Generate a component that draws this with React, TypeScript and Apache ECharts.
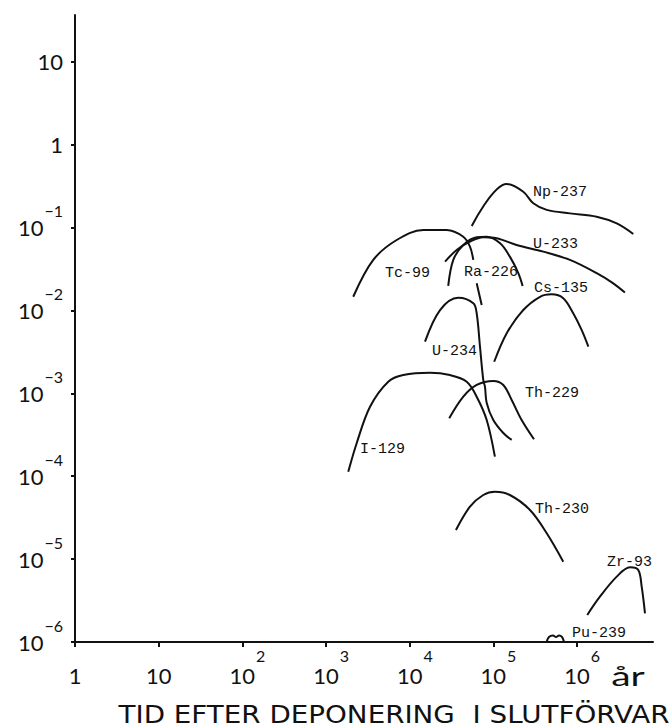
import React, { useEffect, useRef } from "react";
import * as echarts from "echarts";

// Time after deposition (years) vs dose (log-log)
const NP237 = [[5.5e4, 0.104], [1.44e5, 0.335], [2.27e5, 0.27], [2.99e5, 0.196], [4.33e5, 0.163], [8.2e5, 0.148], [1.71e6, 0.135], [2.97e6, 0.112], [4.68e6, 0.0836]];
const TC99 = [[2110, 0.0146], [3660, 0.0406], [6970, 0.0706], [14500, 0.0933], [27600, 0.0933], [43600, 0.0774], [52400, 0.0586], [57400, 0.0406], null, [63000, 0.0212], [72300, 0.0116]];
const U234 = [[15200, 0.00419], [23000, 0.0101], [37900, 0.0142], [57400, 0.0122], [63000, 0.00923], [69000, 0.00365], [75500, 0.00145], [79100, 0.0012], [83000, 0.000764], [99500, 0.000476], [131000, 0.000332], [165000, 0.000274]];
const RA226 = [[28800, 0.0197], [33100, 0.0406], [43600, 0.0615], [63000, 0.0762], [83000, 0.0774], [120000, 0.0644], [157000, 0.0445], [198000, 0.0281], [223000, 0.0197]];
const U233 = [[26400, 0.0387], [36300, 0.0536], [52400, 0.0675], [75500, 0.0762], [109000, 0.0741], [189000, 0.0615], [394000, 0.0511], [820000, 0.0406], [1.71e6, 0.0281], [2.7e6, 0.0212], [3.72e6, 0.0164]];
const CS135 = [[102000, 0.0024], [144000, 0.0053], [227000, 0.0101], [360000, 0.0146], [495000, 0.0156], [682000, 0.014], [897000, 0.00923], [1.13e6, 0.00581], [1.36e6, 0.00365]];
const I129 = [[1840, 0.000113], [2320, 0.00025], [3350, 0.000689], [5530, 0.00138], [8360, 0.00166], [17400, 0.00177], [30200, 0.00166], [47900, 0.00138], [63000, 0.00091], [83000, 0.000476], [104000, 0.000172]];
const TH229 = [[29600, 0.000499], [43600, 0.00091], [63000, 0.00126], [99500, 0.00141], [131000, 0.00126], [165000, 0.00083], [217000, 0.000476], [305000, 0.000279]];
const TH230 = [[35600, 2.24e-5], [52400, 4.29e-5], [75500, 5.93e-5], [104000, 6.5e-5], [157000, 5.93e-5], [273000, 3.91e-5], [433000, 2.05e-5], [682000, 9.31e-6]];
const ZR93 = [[1.32e6, 2.12e-6], [1.87e6, 3.52e-6], [2.97e6, 6.14e-6], [4.28e6, 7.96e-6], [5.37e6, 7.4e-6], [5.9e6, 4.65e-6], [6.46e6, 2.22e-6]];
const PU239 = [[433000, 1.01e-6], [460000, 1.15e-6], [514000, 1.2e-6], [559000, 1.15e-6], [607000, 1.2e-6], [658000, 1.15e-6], [695000, 1.01e-6]];

const X_TICK_EXPONENTS = [0, 1, 2, 3, 4, 5, 6];
const Y_TICK_EXPONENTS = [-6, -5, -4, -3, -2, -1, 0, 1];

const SERIES = [NP237, TC99, U234, RA226, U233, CS135, I129, TH229, TH230, ZR93, PU239];

const LABELS = [
  { text: "Np-237", x: 533, y: 192 },
  { text: "U-233", x: 533, y: 244 },
  { text: "Tc-99", x: 385, y: 273 },
  { text: "Ra-226", x: 464, y: 272 },
  { text: "Cs-135", x: 534, y: 288 },
  { text: "U-234", x: 432, y: 351 },
  { text: "Th-229", x: 525, y: 393 },
  { text: "I-129", x: 360, y: 449 },
  { text: "Th-230", x: 535, y: 509 },
  { text: "Zr-93", x: 607, y: 562 },
  { text: "Pu-239", x: 572, y: 633 },
];

const AXIS_FONT = "Lato, 'Open Sans', sans-serif";
const INK = "#111";

function toLog(d: any) {
  if (!d) return ["-", "-"];
  return [Math.log10(d[0]), Math.log10(d[1])];
}

function yLabel(v: number) {
  const e = Math.round(v);
  if (e === 0) return "{b|1}";
  if (e === 1) return "{b|10}";
  return "{b|10}{s|\u2212" + Math.abs(e) + "}";
}

function xLabel(v: number) {
  const e = Math.round(v);
  if (e === 0) return "{xb|1}";
  if (e === 1) return "{xb|10}";
  return "{xbs|10}{xs|" + e + "}";
}

const baseFont = { fontSize: 22, fontFamily: AXIS_FONT, fontWeight: 400, color: INK };
const supFont = { fontSize: 16, fontFamily: AXIS_FONT, fontWeight: 400, color: INK };

const yRich = {
  b: { ...baseFont, padding: [14, 0, 14, 0], verticalAlign: "middle" },
  s: { ...supFont, lineHeight: 18, verticalAlign: "top", padding: [0, 0, 0, 1] },
};

const X_LH = 39;
const xRich = {
  xb: { ...baseFont, lineHeight: X_LH, verticalAlign: "bottom" },
  xbs: { ...baseFont, lineHeight: X_LH, verticalAlign: "bottom", padding: [0, 0, 0, 10] },
  xs: { ...supFont, lineHeight: X_LH, verticalAlign: "top", padding: [0, 0, 0, 1] },
};

export default function App() {
  const ref = useRef<HTMLDivElement>(null);
  useEffect(() => {
    if (!ref.current) return;
    const chart = echarts.init(ref.current, null, { renderer: "svg" });
    const option: any = {
      animation: false,
      backgroundColor: "#fff",
      grid: { left: 75, right: 17, top: 15, bottom: 86, containLabel: false },
      xAxis: {
        type: "value",
        min: 0,
        max: 6.906,
        splitLine: { show: false },
        axisLine: { show: true, onZero: false, lineStyle: { color: INK, width: 2 } },
        axisTick: { show: true, inside: false, length: 5, customValues: X_TICK_EXPONENTS, lineStyle: { color: INK, width: 2 } },
        axisLabel: {
          customValues: X_TICK_EXPONENTS,
          margin: 5,
          color: INK,
          formatter: xLabel,
          rich: xRich,
        },
      },
      yAxis: {
        type: "value",
        min: -6,
        max: 1.563,
        splitLine: { show: false },
        axisLine: { show: true, onZero: false, lineStyle: { color: INK, width: 2 } },
        axisTick: { show: true, inside: false, length: 4, customValues: Y_TICK_EXPONENTS, lineStyle: { color: INK, width: 2 } },
        axisLabel: {
          customValues: Y_TICK_EXPONENTS,
          margin: 12,
          color: INK,
          formatter: yLabel,
          rich: yRich,
        },
      },
      series: SERIES.map((arr) => ({
        type: "line",
        data: arr.map(toLog),
        symbol: "none",
        smooth: 0.35,
        connectNulls: false,
        lineStyle: { color: INK, width: 2 },
        silent: true,
      })),
      graphic: [
        ...LABELS.map((l) => ({
          type: "text",
          x: l.x,
          y: l.y,
          style: {
            text: l.text,
            fill: INK,
            font: "15px 'Liberation Mono', 'DejaVu Sans Mono', monospace",
            textAlign: "left",
            textVerticalAlign: "middle",
          },
        })),
        {
          type: "text",
          x: 628,
          y: 676,
          scaleX: 1.5,
          style: { text: "år", fill: INK, font: "26px " + AXIS_FONT, textAlign: "center", textVerticalAlign: "middle" },
        },
        {
          type: "text",
          x: 394,
          y: 714,
          scaleX: 1.11,
          style: {
            text: "TID EFTER DEPONERING  I SLUTFÖRVAR",
            fill: INK,
            font: "25px 'DejaVu Sans', sans-serif",
            textAlign: "center",
            textVerticalAlign: "middle",
          },
        },
      ],
    };
    chart.setOption(option);
    return () => chart.dispose();
  }, []);
  return (
    <div
      ref={ref}
      style={{ position: "absolute", left: 0, top: 0, width: 670, height: 728, background: "#fff" }}
    />
  );
}
